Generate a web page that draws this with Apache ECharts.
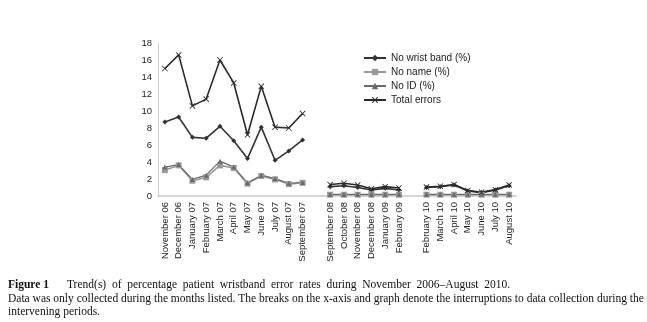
<!DOCTYPE html>
<html><head><meta charset="utf-8">
<script src="https://cdn.jsdelivr.net/npm/echarts@6/dist/echarts.min.js"></script>
<style>html,body{margin:0;padding:0;background:#fff}#c{width:647px;height:322px}</style>
</head><body><div id="c"></div>
<script>
var months = ['November 06','December 06','January 07','February 07','March 07','April 07','May 07','June 07','July 07','August 07','September 07','',
  'September 08','October 08','November 08','December 08','January 09','February 09','',
  'February 10','March 10','April 10','May 10','June 10','July 10','August 10'];
var noWristBand = [8.7,9.3,6.9,6.8,8.2,6.5,4.4,8.1,4.2,5.3,6.6,null, 1.1,1.2,1.0,0.7,0.9,0.7,null, 1.0,1.1,1.3,0.6,0.4,0.7,1.2];
var noName = [3.05,3.6,1.8,2.2,3.6,3.3,1.45,2.35,1.95,1.4,1.55,null, 0.15,0.15,0.15,0.15,0.15,0.15,null, 0.15,0.15,0.15,0.15,0.15,0.15,0.15];
var noID = [3.4,3.7,1.95,2.45,4.1,3.4,1.55,2.45,2.05,1.5,1.6,null, 0.2,0.2,0.2,0.2,0.2,0.2,null, 0.2,0.2,0.2,0.2,0.2,0.2,0.2];
var totalErrors = [15.0,16.6,10.6,11.4,16.0,13.3,7.2,12.9,8.1,8.0,9.7,null, 1.35,1.5,1.3,0.85,1.1,0.95,null, 1.05,1.15,1.35,0.65,0.45,0.75,1.3];
var yTicks = [0,2,4,6,8,10,12,14,16,18];

var xSym = 'path://M0,1L1,0L5,4L9,0L10,1L6,5L10,9L9,10L5,6L1,10L0,9L4,5Z';
var chart = echarts.init(document.getElementById('c'), null, {renderer:'canvas'});
function ser(name, data, color, sym, size, lw){
  return {name:name, type:'line', data:data, connectNulls:false, symbol:sym, symbolSize:size,
    showSymbol:true, lineStyle:{color:color, width:lw}, itemStyle:{color:color}, animation:false, z: 2};
}
var capFont = '11.5px "Liberation Serif", serif';
chart.setOption({
  animation:false,
  textStyle:{fontFamily:'Liberation Sans, Arial, sans-serif'},
  grid:{left:158, right:131, top:43, bottom:126},
  legend:{orient:'vertical', left:358, top:48, itemWidth:22, itemHeight:8, itemGap:4,
    textStyle:{fontSize:10, color:'#222', fontFamily:'Liberation Sans, Arial, sans-serif'},
    data:['No wrist band (%)','No name (%)','No ID (%)','Total errors']},
  xAxis:{type:'category', data:months, boundaryGap:true,
    axisLine:{lineStyle:{color:'#c8c8c8', width:1.5}}, axisTick:{show:false},
    axisLabel:{rotate:90, interval:0, fontSize:9.5, color:'#222', margin:6}},
  yAxis:{type:'value', min:0, max:18, interval:2,
    axisLine:{show:true, lineStyle:{color:'#d0d0d0'}}, axisTick:{show:false}, splitLine:{show:false},
    axisLabel:{fontSize:9.5, color:'#222', margin:6, formatter:function(v){return yTicks.indexOf(v)>=0?String(v):'';}}},
  series:[
    ser('No wrist band (%)', noWristBand, '#333333', 'diamond', 5, 1.6),
    ser('No name (%)', noName, '#9a9a9a', 'rect', 6, 1.6),
    ser('No ID (%)', noID, '#6a6a6a', 'triangle', 5, 1.2),
    ser('Total errors', totalErrors, '#2a2a2a', xSym, 6, 1.6)
  ],
  graphic:[
    {type:'text', left:8, top:279, style:{text:'Figure 1', font:'bold ' + capFont, fill:'#111'}},
    {type:'text', left:67, top:279, style:{text:'Trend(s)  of  percentage  patient  wristband  error  rates  during  November  2006\u2013August  2010.', font:capFont, fill:'#111'}},
    {type:'text', left:8, top:293, style:{text:'Data was only collected during the months listed. The breaks on the x-axis and graph denote the interruptions to data collection during the', font:capFont, fill:'#111'}},
    {type:'text', left:8, top:306, style:{text:'intervening periods.', font:capFont, fill:'#111'}}
  ]
});
</script></body></html>
